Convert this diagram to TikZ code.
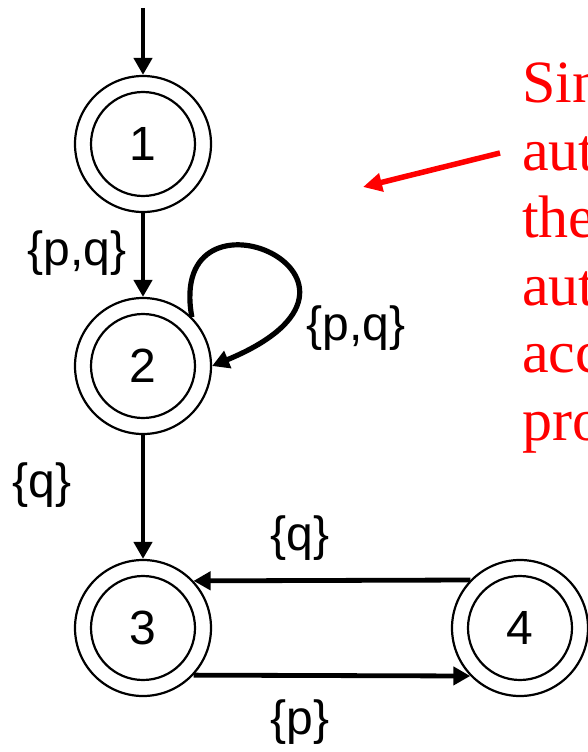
\documentclass[tikz,border=0pt]{standalone}
\usepackage{fontspec}
\setmainfont{Liberation Sans}
\newfontfamily\notefont{Liberation Serif}
\usetikzlibrary{arrows.meta}
\begin{document}
\begin{tikzpicture}[x=1pt,y=-1pt,
  state/.style={circle,draw,line width=2.2pt,minimum size=136pt,inner sep=0pt,font=\fontsize{48}{48}\selectfont},
  ring/.style={draw,line width=2.2pt},
  edge/.style={line width=4.8pt,-{Triangle[length=17pt,width=18pt]}},
  loopedge/.style={line width=5.2pt,-{Triangle[length=17pt,width=18pt]}},
  redarrow/.style={red,line width=5.5pt,-{Triangle[length=19pt,width=18pt]}},
  lbl/.style={inner sep=0pt,font=\fontsize{48}{48}\selectfont},
  note/.style={anchor=base west,inner sep=0pt,text=red,font=\notefont\fontsize{60}{67.5}\selectfont}]
\useasboundingbox (0,0) rectangle (588,752);
\begin{scope}
\clip (0,0) rectangle (588,752);
% states
\node[state] (n1) at (143,144) {1};
\node[state] (n2) at (143,366) {2};
\node[state] (n3) at (143,628) {3};
\node[state] (n4) at (520,628) {4};
\foreach \n in {n1,n2,n3,n4} \draw[ring] (\n.center) circle (52);
% connectors
\coordinate (start) at (143,8);
\draw[edge] (start) -- (n1);
\draw[edge] (n1) -- (n2);
\draw[edge] (n2) -- (n3);
\draw[loopedge] (n2.45) .. controls (165,170) and (420,280) .. (n2.east);
\draw[edge] (n4.136.3) -- (n3.43.7);
\draw[edge] (n3.-43.7) -- (n4.-136.3);
% labels
\node[lbl] (l12) at (77,253) {\{p,q\}};
\node[lbl] (l22) at (356,328) {\{p,q\}};
\node[lbl] (l23) at (42,485) {\{q\}};
\node[lbl] (l43) at (300,538) {\{q\}};
\node[lbl] (l34) at (300,722) {\{p\}};
% red note
\node[note] (t1) at (522,102) {Sin};
\node[note] (t2) at (522,170) {aut};
\node[note] (t3) at (522,237) {the};
\node[note] (t4) at (522,305) {aut};
\node[note] (t5) at (522,372) {acc};
\node[note] (t6) at (522,440) {pro};
\coordinate (rs) at (500,153);
\coordinate (re) at (363,187);
\draw[redarrow] (rs) -- (re);
\end{scope}
\end{tikzpicture}
\end{document}
